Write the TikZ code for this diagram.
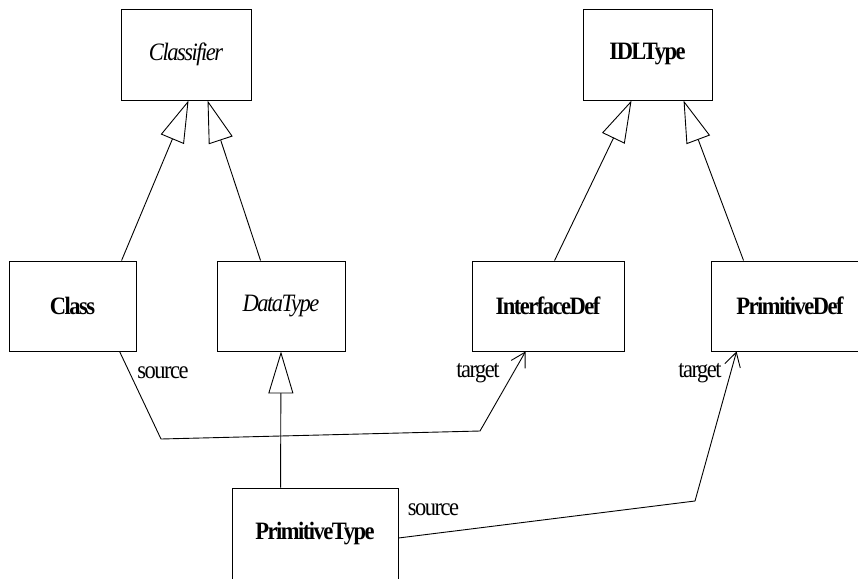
\documentclass[tikz,border=0pt]{standalone}
\usepackage{fontspec}
\setmainfont{Liberation Serif}[FakeStretch=0.9, LetterSpace=-6]
\usetikzlibrary{arrows.meta,calc}

\tikzset{
  umlbox/.style={draw, line width=0.9pt, inner sep=0pt, fill=white,
    font=\fontsize{25}{28}\selectfont\bfseries},
  abstractbox/.style={umlbox, font=\fontsize{25}{28}\selectfont\itshape},
  rolelabel/.style={inner sep=0pt, font=\fontsize{25}{28}\selectfont},
  generalization/.style={line width=0.9pt,
    -{Triangle[length=42pt,width=25pt,fill=white,line width=0.9pt]}},
  navigable/.style={line width=0.9pt, line join=miter,
    -{Straight Barb[length=14pt,width=16pt,line width=0.9pt]}},
}

\begin{document}
\begin{tikzpicture}[x=1pt,y=-1pt]
\useasboundingbox (0,0) rectangle (858,578);
\clip (0,0) rectangle (858,578);

% classes
\node[abstractbox, minimum width=130pt, minimum height=91pt] (classifier) at (186,54.5) {Classifier};
\node[umlbox, minimum width=129pt, minimum height=91pt] (idltype) at (647.5,54.5) {IDLType};
\node[umlbox, minimum width=127pt, minimum height=90pt] (class) at (72.5,306) {Class};
\node[abstractbox, minimum width=128pt, minimum height=90pt] (datatype) at (281,306) {DataType};
\node[umlbox, minimum width=152pt, minimum height=90pt] (interfacedef) at (548,306) {InterfaceDef};
\node[umlbox, minimum width=158pt, minimum height=90pt] (primitivedef) at (790,306) {PrimitiveDef};
\node[umlbox, minimum width=166pt, minimum height=92pt] (primitivetype) at (315,534) {PrimitiveType};

% generalizations
\draw[generalization] ([xshift=113pt]class.north west) -- ([xshift=68pt]classifier.south west);
\draw[generalization] ([xshift=44pt]datatype.north west) -- ([xshift=87pt]classifier.south west);
\draw[generalization] ([xshift=83pt]interfacedef.north west) -- ([xshift=49pt]idltype.south west);
\draw[generalization] ([xshift=33pt]primitivedef.north west) -- ([xshift=101pt]idltype.south west);
\draw[generalization] ([xshift=49pt]primitivetype.north west) -- (datatype.south);

% associations
\coordinate (bendA) at (161,439);
\coordinate (bendB) at (480,431);
\coordinate (bendC) at (695,501);
\draw[navigable] ([xshift=111pt]class.south west) -- (bendA) -- (bendB)
  -- ([xshift=54pt]interfacedef.south west);
\draw[navigable] ([yshift=-4pt]primitivetype.east) -- (bendC)
  -- ([xshift=26pt]primitivedef.south west);

% role names
\node[rolelabel] (srcA) at (163,373) {source};
\node[rolelabel] (tgtA) at (478,373) {target};
\node[rolelabel] (tgtB) at (700,373) {target};
\node[rolelabel] (srcB) at (433.5,510) {source};
\end{tikzpicture}
\end{document}
